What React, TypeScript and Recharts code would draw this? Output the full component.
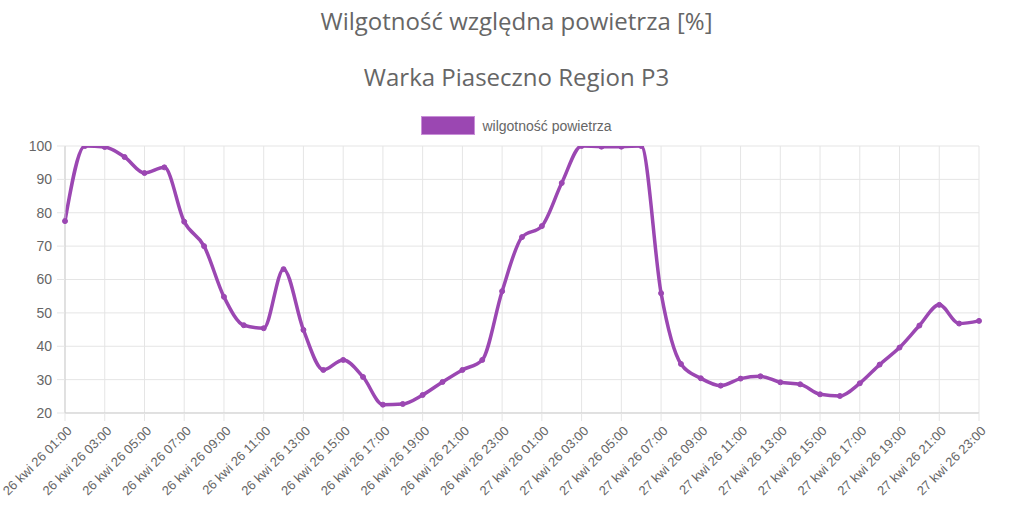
import React from 'react';
import { LineChart, Line, XAxis, YAxis, CartesianGrid } from 'recharts';

const hours = [
  '26 kwi 26 01:00', '26 kwi 26 02:00', '26 kwi 26 03:00', '26 kwi 26 04:00',
  '26 kwi 26 05:00', '26 kwi 26 06:00', '26 kwi 26 07:00', '26 kwi 26 08:00',
  '26 kwi 26 09:00', '26 kwi 26 10:00', '26 kwi 26 11:00', '26 kwi 26 12:00',
  '26 kwi 26 13:00', '26 kwi 26 14:00', '26 kwi 26 15:00', '26 kwi 26 16:00',
  '26 kwi 26 17:00', '26 kwi 26 18:00', '26 kwi 26 19:00', '26 kwi 26 20:00',
  '26 kwi 26 21:00', '26 kwi 26 22:00', '26 kwi 26 23:00', '27 kwi 26 00:00',
  '27 kwi 26 01:00', '27 kwi 26 02:00', '27 kwi 26 03:00', '27 kwi 26 04:00',
  '27 kwi 26 05:00', '27 kwi 26 06:00', '27 kwi 26 07:00', '27 kwi 26 08:00',
  '27 kwi 26 09:00', '27 kwi 26 10:00', '27 kwi 26 11:00', '27 kwi 26 12:00',
  '27 kwi 26 13:00', '27 kwi 26 14:00', '27 kwi 26 15:00', '27 kwi 26 16:00',
  '27 kwi 26 17:00', '27 kwi 26 18:00', '27 kwi 26 19:00', '27 kwi 26 20:00',
  '27 kwi 26 21:00', '27 kwi 26 22:00', '27 kwi 26 23:00',
];

const humidity = [
  77.5, 100, 99.7, 96.7, 91.9, 93.6, 77.3, 70, 54.8, 46.3, 45.4, 63.1,
  44.9, 32.9, 35.9, 30.8, 22.5, 22.7, 25.4, 29.3, 32.9, 35.9, 56.5, 72.7,
  76, 88.9, 100, 99.8, 99.8, 100, 55.9, 34.7, 30.4, 28.2, 30.3, 31,
  29.2, 28.6, 25.6, 25.1, 28.9, 34.5, 39.6, 46.2, 52.4, 46.8, 47.6,
];

const yTicks = [20, 30, 40, 50, 60, 70, 80, 90, 100];

const data = hours.map((h, i) => ({ time: h, value: humidity[i] }));
const xTicks = hours.filter((_, i) => i % 2 === 0);

const PURPLE = '#9b47b2';
const TEXT = '#666666';
const SANS = "'Liberation Sans', Arial, sans-serif";

const XTick = (props: any) => {
  const { x, y, payload } = props;
  return (
    <g transform={`translate(${x + 2},${y + 3})`}>
      <text textAnchor="end" transform="rotate(-45)" dy={8} fontSize={13} fill={TEXT} fontFamily={SANS}>
        {payload.value}
      </text>
    </g>
  );
};

const titleStyle: React.CSSProperties = {
  position: 'absolute',
  width: '100%',
  textAlign: 'center',
  fontSize: 24,
  fontWeight: 500,
  color: TEXT,
  fontFamily: "'Open Sans', sans-serif",
};

export default function App() {
  return (
    <div style={{ position: 'relative', width: 1033, height: 516, background: '#fff' }}>
      <style>{`body{margin:0}`}</style>
      <div style={{ ...titleStyle, top: 4 }}>Wilgotność względna powietrza [%]</div>
      <div style={{ ...titleStyle, top: 60 }}>Warka Piaseczno Region P3</div>
      <div
        style={{
          position: 'absolute',
          top: 116,
          width: '100%',
          display: 'flex',
          justifyContent: 'center',
          alignItems: 'center',
        }}
      >
        <div style={{ width: 52, height: 17, background: PURPLE, border: '1px solid #c98fd8', marginRight: 7 }} />
        <span style={{ fontSize: 14, color: TEXT, fontFamily: SANS }}>wilgotność powietrza</span>
      </div>
      <LineChart width={1033} height={516} data={data} margin={{ top: 146, right: 54, bottom: 0, left: 0 }}>
        <CartesianGrid stroke="#e5e5e5" />
        <XAxis
          dataKey="time"
          ticks={xTicks}
          interval={0}
          tick={<XTick />}
          tickLine={{ stroke: '#e5e5e5' }}
          tickSize={8}
          axisLine={{ stroke: '#cfcfcf' }}
          height={103}
        />
        <YAxis
          domain={[20, 100]}
          ticks={yTicks}
          interval={0}
          width={65}
          tickSize={8}
          tickMargin={5}
          tickLine={{ stroke: '#e5e5e5' }}
          axisLine={{ stroke: '#cfcfcf' }}
          tick={{ fill: TEXT, fontSize: 14, fontFamily: SANS }}
          allowDataOverflow
        />
        <Line
          type="monotone"
          dataKey="value"
          stroke={PURPLE}
          strokeWidth={3.5}
          dot={{ r: 2.5, fill: PURPLE, stroke: PURPLE, strokeWidth: 1 }}
          isAnimationActive={false}
        />
      </LineChart>
    </div>
  );
}
